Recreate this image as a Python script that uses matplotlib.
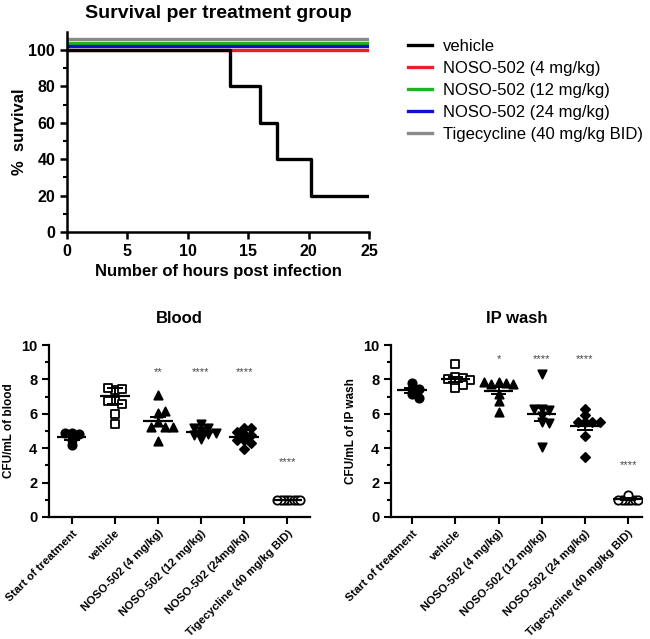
import matplotlib.pyplot as plt
import numpy as np

plt.rcParams['font.family'] = ['Liberation Sans', 'DejaVu Sans']
plt.rcParams['font.weight'] = 'bold'
plt.rcParams['axes.labelweight'] = 'bold'
plt.rcParams['axes.titleweight'] = 'bold'

# ~~~ DATA ~~~~~~~~~~~~~~~~~~~~~~~~~~~~~~~~~~~~~~~~~~~~~~~~~~~~~~~~~~~~~~~~~~~~
surv_names = ['vehicle', 'NOSO-502 (4 mg/kg)', 'NOSO-502 (12 mg/kg)',
              'NOSO-502 (24 mg/kg)', 'Tigecycline (40 mg/kg BID)']
surv_colors = ['black', '#e8202a', '#1fb41f', '#1010d0', '#8a8a8a']
surv_offset = [0, 0, 4, 2, 6]   # prism-style offset so lines at 100% stay visible
vehicle_t = [0, 13.5, 16.0, 17.4, 20.2, 25]
vehicle_s = [100, 80, 60, 40, 20, 20]

blood_groups = ['Start of treatment', 'vehicle', 'NOSO-502 (4 mg/kg)',
                'NOSO-502 (12 mg/kg)', 'NOSO-502 (24mg/kg)',
                'Tigecycline (40 mg/kg BID)']
ip_groups = ['Start of treatment', 'vehicle', 'NOSO-502 (4 mg/kg)',
             'NOSO-502 (12 mg/kg)', 'NOSO-502 (24 mg/kg)',
             'Tigecycline (40 mg/kg BID)']

blood_vals = [
    [4.9, 4.85, 4.9, 4.5, 4.2],
    [7.4, 7.45, 7.5, 6.75, 6.55, 6.75, 6.0, 5.4],
    [7.1, 6.05, 6.15, 5.5, 5.25, 5.25, 5.25, 4.4],
    [5.4, 5.15, 5.15, 5.0, 4.9, 4.85, 4.75, 4.55],
    [5.15, 5.2, 4.95, 4.85, 4.75, 4.45, 4.5, 4.3, 3.95],
    [1.0, 1.0, 1.0, 1.0, 1.0, 1.0, 1.0, 1.0],
]
blood_mean = [4.63, 7.05, 5.58, 4.92, 4.67, 1.0]
blood_sem = [0.13, 0.47, 0.26, 0.09, 0.14, 0.0]
blood_stars = ['', '', '**', '****', '****', '****']
blood_star_y = [0, 0, 8.4, 8.4, 8.4, 3.2]

ip_vals = [
    [7.45, 7.8, 7.45, 7.15, 6.9],
    [8.9, 8.15, 8.1, 8.0, 7.95, 7.85, 7.7, 7.5],
    [7.85, 7.8, 7.75, 7.75, 7.85, 7.15, 6.75, 6.1],
    [8.3, 6.3, 6.25, 6.3, 5.85, 5.5, 5.45, 4.05],
    [6.3, 5.95, 5.55, 5.55, 5.5, 5.5, 4.7, 3.5],
    [1.0, 1.0, 1.0, 1.0, 1.0, 1.3, 1.0, 1.0],
]
ip_mean = [7.38, 8.0, 7.35, 5.97, 5.29, 1.04]
ip_sem = [0.15, 0.14, 0.2, 0.36, 0.25, 0.04]
ip_stars = ['', '', '*', '****', '****', '****']
ip_star_y = [0, 0, 9.2, 9.2, 9.2, 3.0]

markers = ['o', 's', '^', 'v', 'D', 'o']
filled = [True, False, True, True, True, False]
msizes = [36, 36, 36, 36, 22, 36]


def swarm(vals, step):
    """Deterministic beeswarm offsets (in category units)."""
    placed = []
    offs = []
    for v in vals:
        k = 0
        while True:
            cand = (k + 1) // 2 * step * (1 if k % 2 else -1) if k else 0.0
            if all(abs(cand - o) >= 0.95 * step or abs(v - pv) >= 0.28
                   for o, pv in placed):
                break
            k += 1
        placed.append((cand, v))
        offs.append(cand)
    return np.array(offs)


def dot_panel(ax, groups, vals, means, sems, stars, star_y, title, ylabel,
              xlim):
    for i, v in enumerate(vals):
        offs = swarm(v, 0.075 if i == 5 else 0.17)
        fc = 'black' if filled[i] else 'white'
        ax.scatter(i + offs, v, marker=markers[i], s=msizes[i],
                   facecolor=fc, edgecolor='black', linewidths=1.3, zorder=3)
        ax.hlines(means[i], i - 0.34, i + 0.34, color='black', lw=1.6,
                  zorder=4)
        ax.hlines([means[i] - sems[i], means[i] + sems[i]], i - 0.18,
                  i + 0.18, color='black', lw=1.4, zorder=4)
        ax.vlines(i, means[i] - sems[i], means[i] + sems[i], color='black',
                  lw=1.4, zorder=4)
        if stars[i]:
            ax.text(i, star_y[i], stars[i], ha='center', va='center',
                    fontsize=8, fontweight='normal', color='#444444')
    ax.set_xlim(*xlim)
    ax.set_ylim(0, 10)
    ax.set_yticks(range(0, 11, 2))
    ax.set_yticks(range(1, 10, 2), minor=True)
    ax.set_xticks(range(len(groups)))
    ax.set_xticklabels(groups, rotation=45, ha='right', rotation_mode='anchor',
                       fontsize=8.2)
    ax.tick_params(axis='y', labelsize=10.5)
    ax.tick_params(width=1.5, length=5, direction='out')
    ax.tick_params(which='minor', width=1.5, length=3)
    ax.tick_params(axis='x', pad=3)
    for s in ['top', 'right']:
        ax.spines[s].set_visible(False)
    for s in ['left', 'bottom']:
        ax.spines[s].set_linewidth(1.6)
    ax.set_title(title, fontsize=12, pad=16)
    ax.set_ylabel(ylabel, fontsize=8.5, labelpad=4)


# ~~~ PLOT ~~~~~~~~~~~~~~~~~~~~~~~~~~~~~~~~~~~~~~~~~~~~~~~~~~~~~~~~~~~~~~~~~~~~
fig = plt.figure(figsize=(6.5, 6.39), dpi=100)

ax = fig.add_axes([0.103, 0.637, 0.465, 0.313])
for i in [4, 2, 3, 1]:
    ax.plot([0, 25], [100 + surv_offset[i]] * 2, color=surv_colors[i], lw=2.4,
            label=surv_names[i])
ax.step(vehicle_t, vehicle_s, where='post', color='black', lw=2.4,
        label=surv_names[0])
h, l = ax.get_legend_handles_labels()
order = [l.index(n) for n in surv_names]
ax.legend([h[k] for k in order], [l[k] for k in order], loc='upper left',
          bbox_to_anchor=(1.08, 1.04), frameon=False, handlelength=1.4,
          handletextpad=0.7, prop={'weight': 'normal', 'size': 12},
          labelspacing=0.42)
ax.set_xlim(0, 25)
ax.set_ylim(0, 110)
ax.set_xticks(range(0, 26, 5))
ax.set_yticks(range(0, 101, 20))
ax.set_yticks(range(10, 110, 10), minor=True)
ax.tick_params(labelsize=11.5, width=1.8, length=5)
ax.tick_params(which='minor', width=1.5, length=3)
for s in ['top', 'right']:
    ax.spines[s].set_visible(False)
for s in ['left', 'bottom']:
    ax.spines[s].set_linewidth(1.8)
ax.set_title('Survival per treatment group', fontsize=14, pad=10)
ax.set_xlabel('Number of hours post infection', fontsize=12)
ax.set_ylabel('%  survival', fontsize=12, labelpad=1)

ax1 = fig.add_axes([0.0754, 0.191, 0.4015, 0.269])
dot_panel(ax1, blood_groups, blood_vals, blood_mean, blood_sem, blood_stars,
          blood_star_y, 'Blood', 'CFU/mL of blood', (-0.53, 5.53))

ax2 = fig.add_axes([0.6015, 0.191, 0.386, 0.269])
dot_panel(ax2, ip_groups, ip_vals, ip_mean, ip_sem, ip_stars, ip_star_y,
          'IP wash', 'CFU/mL of IP wash', (-0.49, 5.32))

plt.savefig('out.png', dpi=100)
